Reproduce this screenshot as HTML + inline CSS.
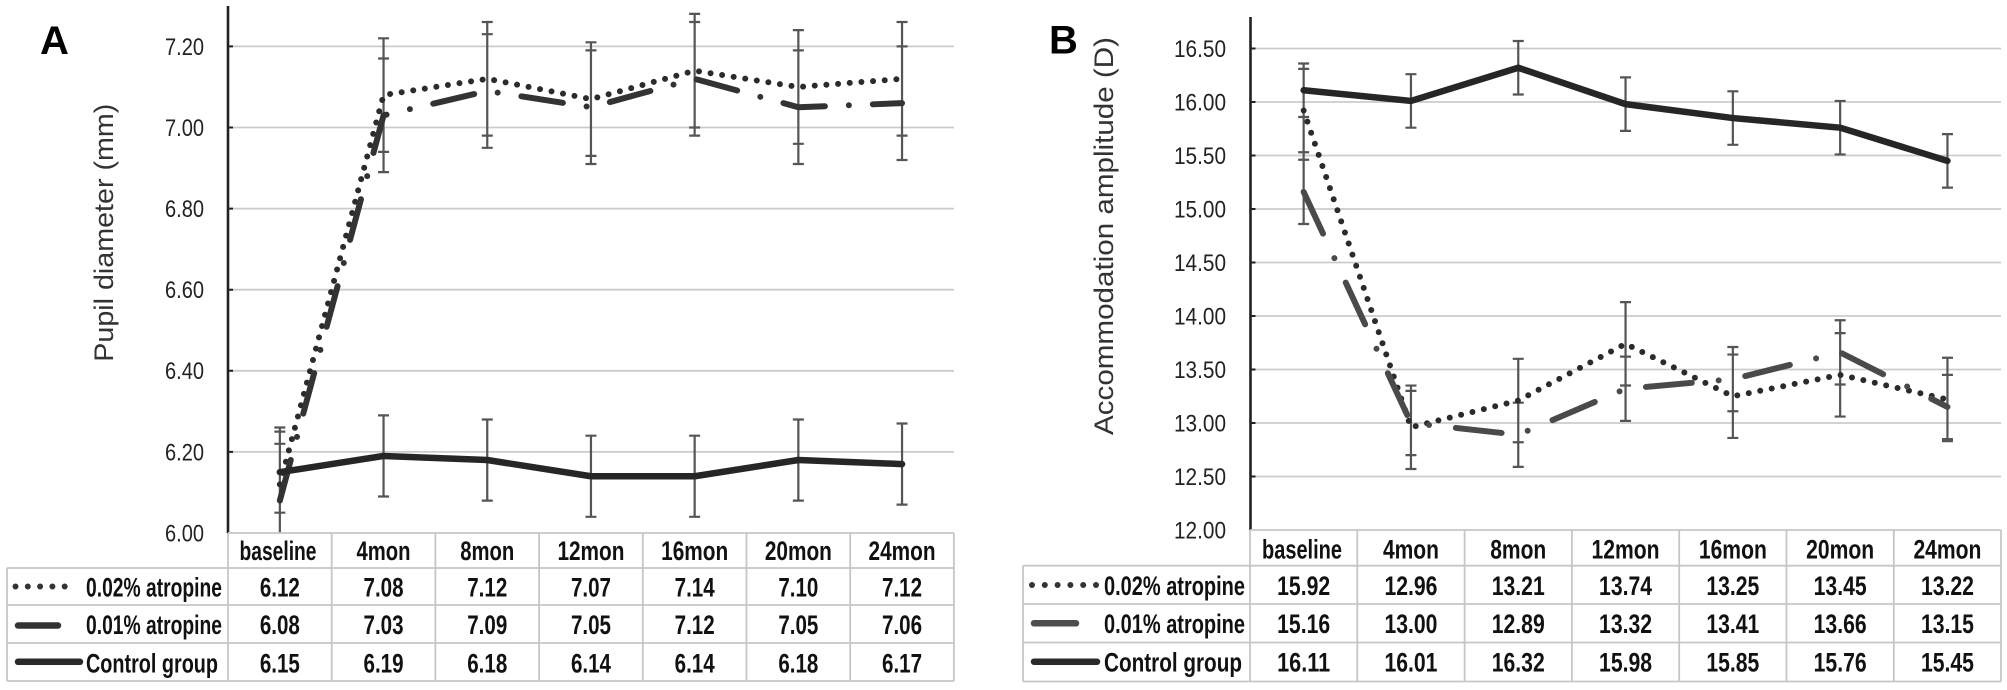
<!DOCTYPE html>
<html><head><meta charset="utf-8"><style>
html,body{margin:0;padding:0;background:#fff;}
svg{display:block;}
.tk{font-family:"Liberation Sans",sans-serif;font-size:24px;fill:#222;}
.tt{font-family:"Liberation Sans",sans-serif;font-size:27px;fill:#333;}
.tb{font-family:"Liberation Sans",sans-serif;font-size:27px;font-weight:bold;fill:#111;}
.lt{font-family:"Liberation Sans",sans-serif;font-size:40px;font-weight:bold;fill:#000;}
</style></head><body>
<svg width="2007" height="690" viewBox="0 0 2007 690" xmlns="http://www.w3.org/2000/svg">
<defs>
<clipPath id="ca"><rect x="228" y="0" width="730" height="533"/></clipPath>
<clipPath id="cb"><rect x="1250" y="0" width="755" height="530"/></clipPath>
</defs>
<rect width="2007" height="690" fill="#fff"/>

<!-- ============ PANEL A ============ -->
<text class="lt" x="40" y="54">A</text>
<text class="tt" transform="translate(113,361.7) rotate(-90)" x="0" y="0" textLength="258" lengthAdjust="spacingAndGlyphs">Pupil diameter (mm)</text>

<g stroke="#cbcbcb" stroke-width="1.8">
<path d="M228 46.4H954M228 127.5H954M228 208.6H954M228 289.7H954M228 370.8H954M228 451.9H954"/>
</g>
<g class="tk">
<text x="165" y="55" textLength="39" lengthAdjust="spacingAndGlyphs">7.20</text>
<text x="165" y="136" textLength="39" lengthAdjust="spacingAndGlyphs">7.00</text>
<text x="165" y="217" textLength="39" lengthAdjust="spacingAndGlyphs">6.80</text>
<text x="165" y="298" textLength="39" lengthAdjust="spacingAndGlyphs">6.60</text>
<text x="165" y="379" textLength="39" lengthAdjust="spacingAndGlyphs">6.40</text>
<text x="165" y="460.5" textLength="39" lengthAdjust="spacingAndGlyphs">6.20</text>
<text x="165" y="541.5" textLength="39" lengthAdjust="spacingAndGlyphs">6.00</text>
</g>
<path d="M228 6V533" stroke="#222" stroke-width="2.6"/>
<path d="M228 46.4h5M228 127.5h5M228 208.6h5M228 289.7h5M228 370.8h5M228 451.9h5" stroke="#222" stroke-width="2"/>

<!-- error bars A -->
<g stroke="#555" stroke-width="2.2" fill="none" clip-path="url(#ca)">
<path d="M279.85 427.5V533M274.35 427.5h11M274.35 443.8h11M274.35 431.6h11M274.35 512.7h11"/>
<path d="M383.55 38.3V172.1M378.05 38.3h11M378.05 151.9h11M378.05 58.5h11M378.05 172.1h11M383.55 415.4V496.5M378.05 415.4h11M378.05 496.5h11"/>
<path d="M487.25 22V147.8M481.75 22h11M481.75 135.6h11M481.75 34.2h11M481.75 147.8h11M487.25 419.5V500.6M481.75 419.5h11M481.75 500.6h11"/>
<path d="M590.95 42.3V164M585.45 42.3h11M585.45 155.9h11M585.45 50.4h11M585.45 164h11M590.95 435.7V516.8M585.45 435.7h11M585.45 516.8h11"/>
<path d="M694.65 13.9V135.6M689.15 13.9h11M689.15 127.5h11M689.15 22h11M689.15 135.6h11M694.65 435.7V516.8M689.15 435.7h11M689.15 516.8h11"/>
<path d="M798.35 30.1V164M792.85 30.1h11M792.85 143.8h11M792.85 50.4h11M792.85 164h11M798.35 419.5V500.6M792.85 419.5h11M792.85 500.6h11"/>
<path d="M902.05 22V160M896.55 22h11M896.55 135.6h11M896.55 46.4h11M896.55 160h11M902.05 423.5V504.6M896.55 423.5h11M896.55 504.6h11"/>
</g>

<!-- series A -->
<g fill="none" stroke-linecap="round" stroke-linejoin="round">
<polyline points="279.85,484.34 383.55,95.06 487.25,78.84 590.95,99.12 694.65,70.73 798.35,86.95 902.05,78.84" stroke="#2b2b2b" stroke-width="6" stroke-dasharray="0 11.7"/>
<polyline points="279.85,500.56 383.55,115.34 487.25,91 590.95,107.23 694.65,78.84 798.35,107.23 902.05,103.17" stroke="#333" stroke-width="6" stroke-dasharray="42 24 0 24" stroke-dashoffset="0"/>
<polyline points="279.85,472.18 383.55,455.96 487.25,460.01 590.95,476.23 694.65,476.23 798.35,460.01 902.05,464.07" stroke="#262626" stroke-width="6.5"/>
</g>

<!-- table A -->
<g stroke="#c6c6c6" stroke-width="1.8" fill="none">
<path d="M228 533H954M7 568H954M7 605H954M7 643H954M7 681H954"/>
<path d="M7 568V681M228 533V681M331.7 533V681M435.4 533V681M539.1 533V681M642.8 533V681M746.5 533V681M850.2 533V681M953.9 533V681"/>
</g>
<g stroke-linecap="round" fill="none">
<path d="M15.5 586.5H77" stroke="#333" stroke-width="6" stroke-dasharray="0 12.3"/>
<path d="M18 625.5H58" stroke="#333" stroke-width="6.5"/>
<path d="M18 661.8H80" stroke="#2a2a2a" stroke-width="6.5"/>
</g>
<g class="tb">
<text x="86" y="596.5" textLength="136" lengthAdjust="spacingAndGlyphs">0.02% atropine</text>
<text x="86" y="634" textLength="136" lengthAdjust="spacingAndGlyphs">0.01% atropine</text>
<text x="86" y="672.5" textLength="132" lengthAdjust="spacingAndGlyphs">Control group</text>
</g>
<g class="tb" text-anchor="middle">
<text x="278" y="560" textLength="77" lengthAdjust="spacingAndGlyphs">baseline</text>
<text x="383.55" y="560" textLength="54" lengthAdjust="spacingAndGlyphs">4mon</text>
<text x="487.25" y="560" textLength="54" lengthAdjust="spacingAndGlyphs">8mon</text>
<text x="590.95" y="560" textLength="67" lengthAdjust="spacingAndGlyphs">12mon</text>
<text x="694.65" y="560" textLength="67" lengthAdjust="spacingAndGlyphs">16mon</text>
<text x="798.35" y="560" textLength="67" lengthAdjust="spacingAndGlyphs">20mon</text>
<text x="902.05" y="560" textLength="67" lengthAdjust="spacingAndGlyphs">24mon</text>

<text x="279.85" y="596.5" textLength="40" lengthAdjust="spacingAndGlyphs">6.12</text>
<text x="383.55" y="596.5" textLength="40" lengthAdjust="spacingAndGlyphs">7.08</text>
<text x="487.25" y="596.5" textLength="40" lengthAdjust="spacingAndGlyphs">7.12</text>
<text x="590.95" y="596.5" textLength="40" lengthAdjust="spacingAndGlyphs">7.07</text>
<text x="694.65" y="596.5" textLength="40" lengthAdjust="spacingAndGlyphs">7.14</text>
<text x="798.35" y="596.5" textLength="40" lengthAdjust="spacingAndGlyphs">7.10</text>
<text x="902.05" y="596.5" textLength="40" lengthAdjust="spacingAndGlyphs">7.12</text>

<text x="279.85" y="634" textLength="40" lengthAdjust="spacingAndGlyphs">6.08</text>
<text x="383.55" y="634" textLength="40" lengthAdjust="spacingAndGlyphs">7.03</text>
<text x="487.25" y="634" textLength="40" lengthAdjust="spacingAndGlyphs">7.09</text>
<text x="590.95" y="634" textLength="40" lengthAdjust="spacingAndGlyphs">7.05</text>
<text x="694.65" y="634" textLength="40" lengthAdjust="spacingAndGlyphs">7.12</text>
<text x="798.35" y="634" textLength="40" lengthAdjust="spacingAndGlyphs">7.05</text>
<text x="902.05" y="634" textLength="40" lengthAdjust="spacingAndGlyphs">7.06</text>

<text x="279.85" y="672.5" textLength="40" lengthAdjust="spacingAndGlyphs">6.15</text>
<text x="383.55" y="672.5" textLength="40" lengthAdjust="spacingAndGlyphs">6.19</text>
<text x="487.25" y="672.5" textLength="40" lengthAdjust="spacingAndGlyphs">6.18</text>
<text x="590.95" y="672.5" textLength="40" lengthAdjust="spacingAndGlyphs">6.14</text>
<text x="694.65" y="672.5" textLength="40" lengthAdjust="spacingAndGlyphs">6.14</text>
<text x="798.35" y="672.5" textLength="40" lengthAdjust="spacingAndGlyphs">6.18</text>
<text x="902.05" y="672.5" textLength="40" lengthAdjust="spacingAndGlyphs">6.17</text>
</g>

<!-- ============ PANEL B ============ -->
<text class="lt" x="1049" y="53.5">B</text>
<text class="tt" transform="translate(1113,435) rotate(-90)" x="0" y="0" textLength="398" lengthAdjust="spacingAndGlyphs">Accommodation amplitude (D)</text>

<g stroke="#cbcbcb" stroke-width="1.8">
<path d="M1250 48.5H2001M1250 102H2001M1250 155.5H2001M1250 209H2001M1250 262.5H2001M1250 316H2001M1250 369.5H2001M1250 423H2001M1250 476.5H2001"/>
</g>
<g class="tk">
<text x="1174" y="57" textLength="52" lengthAdjust="spacingAndGlyphs">16.50</text>
<text x="1174" y="110.5" textLength="52" lengthAdjust="spacingAndGlyphs">16.00</text>
<text x="1174" y="164" textLength="52" lengthAdjust="spacingAndGlyphs">15.50</text>
<text x="1174" y="217.5" textLength="52" lengthAdjust="spacingAndGlyphs">15.00</text>
<text x="1174" y="271" textLength="52" lengthAdjust="spacingAndGlyphs">14.50</text>
<text x="1174" y="324.5" textLength="52" lengthAdjust="spacingAndGlyphs">14.00</text>
<text x="1174" y="378" textLength="52" lengthAdjust="spacingAndGlyphs">13.50</text>
<text x="1174" y="431.5" textLength="52" lengthAdjust="spacingAndGlyphs">13.00</text>
<text x="1174" y="485" textLength="52" lengthAdjust="spacingAndGlyphs">12.50</text>
<text x="1174" y="538.5" textLength="52" lengthAdjust="spacingAndGlyphs">12.00</text>
</g>
<path d="M1250.5 17V530" stroke="#222" stroke-width="2.6"/>
<path d="M1250.5 48.5h5M1250.5 102h5M1250.5 155.5h5M1250.5 209h5M1250.5 262.5h5M1250.5 316h5M1250.5 369.5h5M1250.5 423h5M1250.5 476.5h5" stroke="#222" stroke-width="2"/>

<!-- error bars B -->
<g stroke="#555" stroke-width="2.2" fill="none" clip-path="url(#cb)">
<path d="M1303.65 63.48V223.98M1298.15 63.48h11M1298.15 116.98h11M1298.15 68.86h11M1298.15 152.26h11M1298.15 159.78h11M1298.15 223.98h11"/>
<path d="M1410.95 74.18V127.68M1405.45 74.18h11M1405.45 127.68h11M1410.95 385.58V468.98M1405.45 385.58h11M1405.45 468.98h11M1405.45 390.9h11M1405.45 455.1h11"/>
<path d="M1518.25 41.01V94.51M1512.75 41.01h11M1512.75 94.51h11M1518.25 358.83V466.87M1512.75 358.83h11M1512.75 442.23h11M1512.75 402.67h11M1512.75 466.87h11"/>
<path d="M1625.55 77.39V130.89M1620.05 77.39h11M1620.05 130.89h11M1625.55 302.12V420.86M1620.05 302.12h11M1620.05 385.52h11M1620.05 356.66h11M1620.05 420.86h11"/>
<path d="M1732.85 91.3V144.8M1727.35 91.3h11M1727.35 144.8h11M1732.85 347.03V437.95M1727.35 354.55h11M1727.35 437.95h11M1727.35 347.03h11M1727.35 411.23h11"/>
<path d="M1840.15 100.93V154.43M1834.65 100.93h11M1834.65 154.43h11M1840.15 320.28V416.55M1834.65 333.15h11M1834.65 416.55h11M1834.65 320.28h11M1834.65 384.48h11"/>
<path d="M1947.45 134.1V187.6M1941.95 134.1h11M1941.95 187.6h11M1947.45 357.76V441.16M1941.95 357.76h11M1941.95 441.16h11M1941.95 374.85h11M1941.95 439.05h11"/>
</g>

<!-- series B -->
<g fill="none" stroke-linecap="round" stroke-linejoin="round">
<polyline points="1303.65,110.56 1410.95,427.28 1518.25,400.53 1625.55,343.82 1732.85,396.25 1840.15,374.85 1947.45,399.46" stroke="#2b2b2b" stroke-width="6" stroke-dasharray="0 11.7"/>
<polyline points="1303.65,191.88 1410.95,423 1518.25,434.77 1625.55,388.76 1732.85,379.13 1840.15,352.38 1947.45,406.95" stroke="#4a4a4a" stroke-width="6" stroke-dasharray="46 27 0 27" stroke-dashoffset="0"/>
<polyline points="1303.65,90.23 1410.95,100.93 1518.25,67.76 1625.55,104.14 1732.85,118.05 1840.15,127.68 1947.45,160.85" stroke="#262626" stroke-width="6.5"/>
</g>

<!-- table B -->
<g stroke="#c6c6c6" stroke-width="1.8" fill="none">
<path d="M1250 530H2001M1023 565.7H2001M1023 604H2001M1023 642.5H2001M1023 681.5H2001"/>
<path d="M1023 565.7V681.5M1250 530V681.5M1357.3 530V681.5M1464.6 530V681.5M1571.9 530V681.5M1679.2 530V681.5M1786.5 530V681.5M1893.8 530V681.5M2001 530V681.5"/>
</g>
<g stroke-linecap="round" fill="none">
<path d="M1032 585H1097" stroke="#333" stroke-width="6" stroke-dasharray="0 12.8"/>
<path d="M1034 623.3H1076" stroke="#4e4e4e" stroke-width="6.5"/>
<path d="M1034 661.7H1097" stroke="#2a2a2a" stroke-width="6.5"/>
</g>
<g class="tb">
<text x="1104" y="595" textLength="141" lengthAdjust="spacingAndGlyphs">0.02% atropine</text>
<text x="1104" y="633" textLength="141" lengthAdjust="spacingAndGlyphs">0.01% atropine</text>
<text x="1104" y="671.5" textLength="138" lengthAdjust="spacingAndGlyphs">Control group</text>
</g>
<g class="tb" text-anchor="middle">
<text x="1302" y="558.5" textLength="80" lengthAdjust="spacingAndGlyphs">baseline</text>
<text x="1410.95" y="558.5" textLength="56" lengthAdjust="spacingAndGlyphs">4mon</text>
<text x="1518.25" y="558.5" textLength="56" lengthAdjust="spacingAndGlyphs">8mon</text>
<text x="1625.55" y="558.5" textLength="68" lengthAdjust="spacingAndGlyphs">12mon</text>
<text x="1732.85" y="558.5" textLength="68" lengthAdjust="spacingAndGlyphs">16mon</text>
<text x="1840.15" y="558.5" textLength="68" lengthAdjust="spacingAndGlyphs">20mon</text>
<text x="1947.45" y="558.5" textLength="68" lengthAdjust="spacingAndGlyphs">24mon</text>

<text x="1303.65" y="595" textLength="53" lengthAdjust="spacingAndGlyphs">15.92</text>
<text x="1410.95" y="595" textLength="53" lengthAdjust="spacingAndGlyphs">12.96</text>
<text x="1518.25" y="595" textLength="53" lengthAdjust="spacingAndGlyphs">13.21</text>
<text x="1625.55" y="595" textLength="53" lengthAdjust="spacingAndGlyphs">13.74</text>
<text x="1732.85" y="595" textLength="53" lengthAdjust="spacingAndGlyphs">13.25</text>
<text x="1840.15" y="595" textLength="53" lengthAdjust="spacingAndGlyphs">13.45</text>
<text x="1947.45" y="595" textLength="53" lengthAdjust="spacingAndGlyphs">13.22</text>

<text x="1303.65" y="633" textLength="53" lengthAdjust="spacingAndGlyphs">15.16</text>
<text x="1410.95" y="633" textLength="53" lengthAdjust="spacingAndGlyphs">13.00</text>
<text x="1518.25" y="633" textLength="53" lengthAdjust="spacingAndGlyphs">12.89</text>
<text x="1625.55" y="633" textLength="53" lengthAdjust="spacingAndGlyphs">13.32</text>
<text x="1732.85" y="633" textLength="53" lengthAdjust="spacingAndGlyphs">13.41</text>
<text x="1840.15" y="633" textLength="53" lengthAdjust="spacingAndGlyphs">13.66</text>
<text x="1947.45" y="633" textLength="53" lengthAdjust="spacingAndGlyphs">13.15</text>

<text x="1303.65" y="671.5" textLength="53" lengthAdjust="spacingAndGlyphs">16.11</text>
<text x="1410.95" y="671.5" textLength="53" lengthAdjust="spacingAndGlyphs">16.01</text>
<text x="1518.25" y="671.5" textLength="53" lengthAdjust="spacingAndGlyphs">16.32</text>
<text x="1625.55" y="671.5" textLength="53" lengthAdjust="spacingAndGlyphs">15.98</text>
<text x="1732.85" y="671.5" textLength="53" lengthAdjust="spacingAndGlyphs">15.85</text>
<text x="1840.15" y="671.5" textLength="53" lengthAdjust="spacingAndGlyphs">15.76</text>
<text x="1947.45" y="671.5" textLength="53" lengthAdjust="spacingAndGlyphs">15.45</text>
</g>
</svg>
</body></html>
